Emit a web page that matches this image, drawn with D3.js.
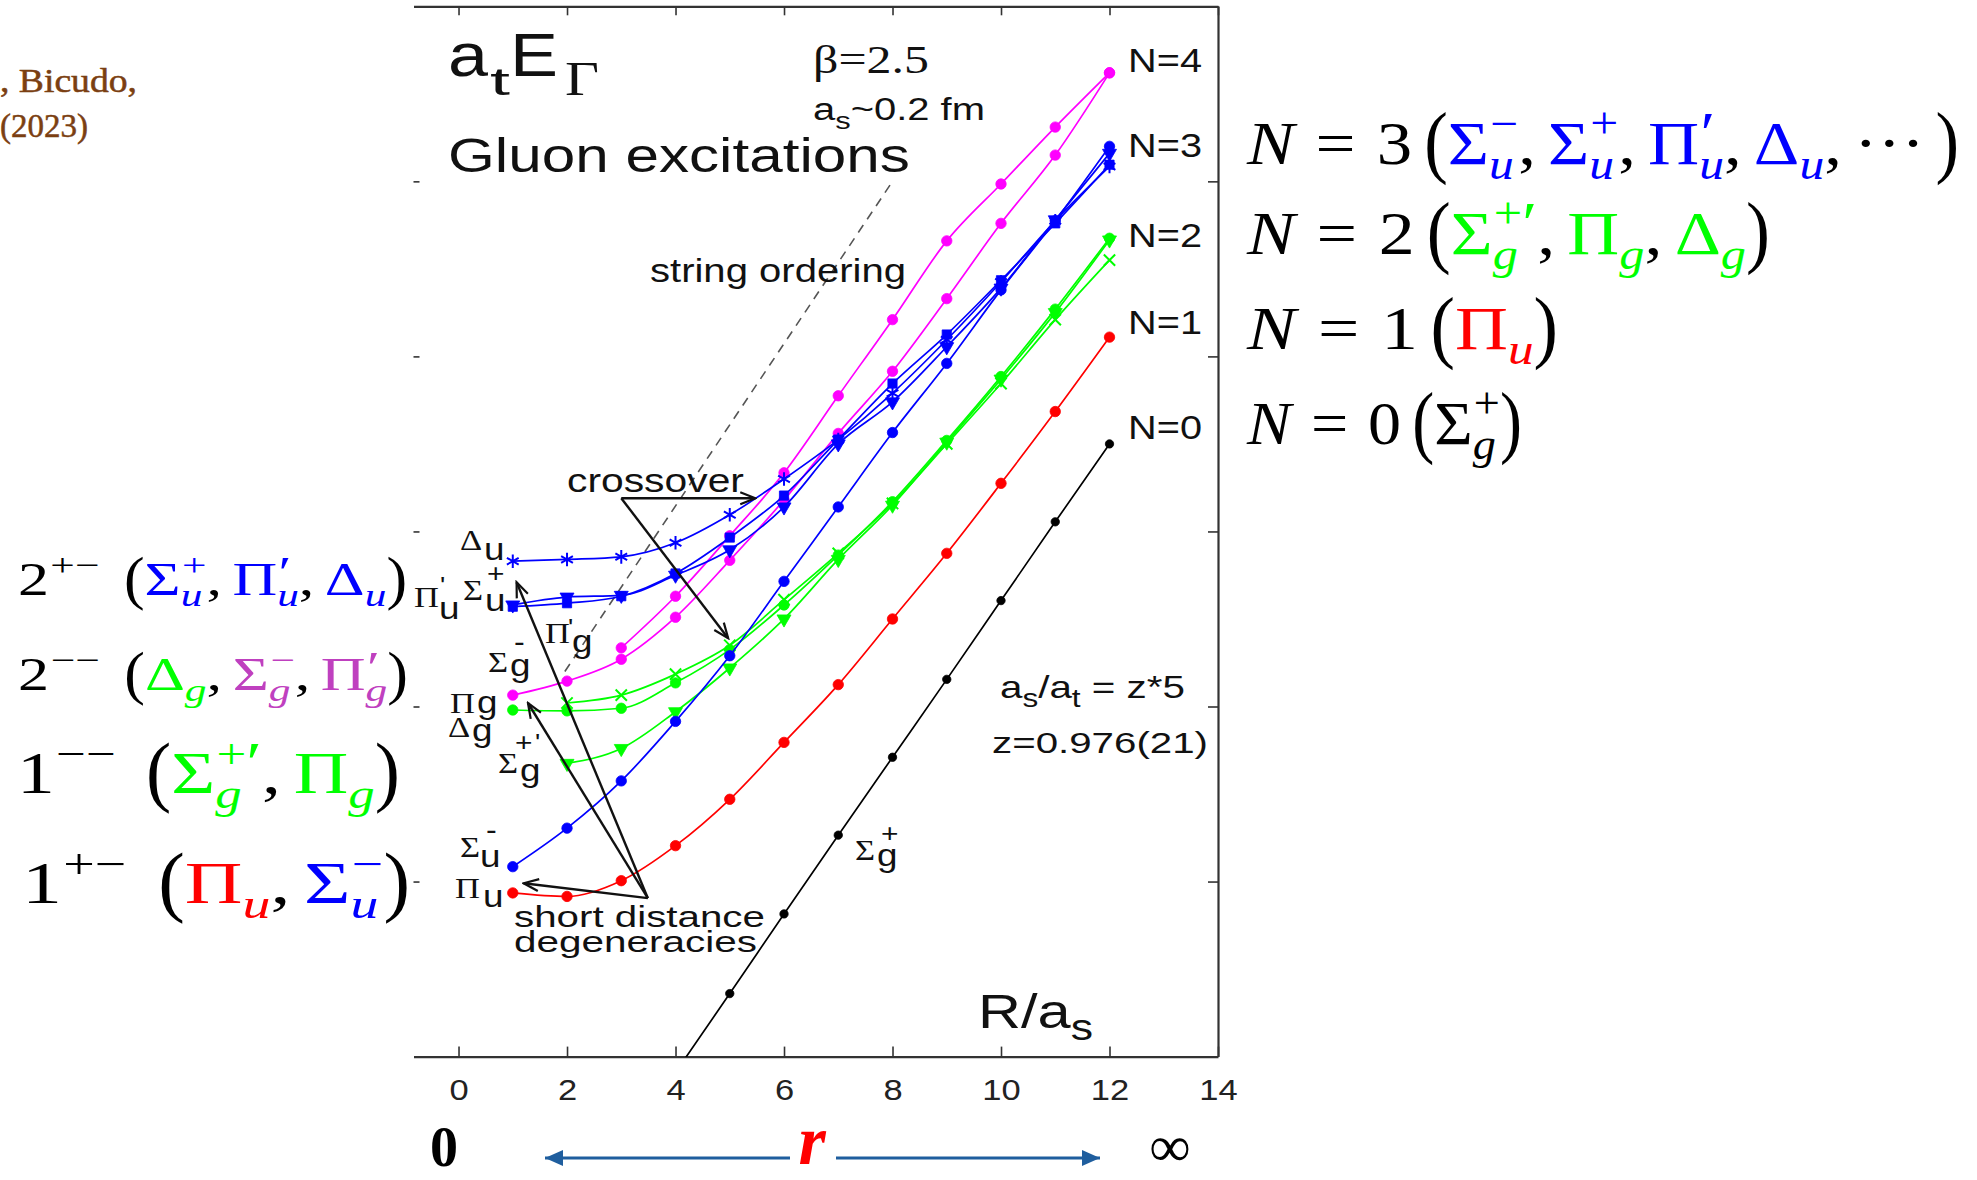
<!DOCTYPE html>
<html>
<head>
<meta charset="utf-8">
<script src="https://cdn.jsdelivr.net/npm/d3@7/dist/d3.min.js"></script>
<style>
html, body { margin: 0; padding: 0; background: #fff; }
svg { display: block; }
.sans { font-family: 'Liberation Sans', Arial, Helvetica, sans-serif; }
.serif { font-family: 'Liberation Serif', 'Times New Roman', serif; }
</style>
</head>
<body>
<svg id="chart" width="1977" height="1180"></svg>
<script>
// separations R/a_s of each level
const rFrom1 = [1, 2, 3, 4, 5, 6, 7, 8, 9, 10, 11, 12]
const rFrom2 = [2, 3, 4, 5, 6, 7, 8, 9, 10, 11, 12]
const rFrom3 = [3, 4, 5, 6, 7, 8, 9, 10, 11, 12]
const rFrom4 = [4, 5, 6, 7, 8, 9, 10, 11, 12]

// a_t E_Gamma
const sigmaGPlus = [-0.018, 0.072, 0.163, 0.253, 0.342, 0.431, 0.521, 0.611, 0.700]
const piU = [0.187, 0.183, 0.201, 0.241, 0.294, 0.359, 0.425, 0.500, 0.575, 0.655, 0.737, 0.822]
const sigmaUMinus = [0.217, 0.261, 0.315, 0.383, 0.458, 0.543, 0.628, 0.713, 0.792, 0.876, 0.955, 1.040]
const piUPrime = [0.514, 0.518, 0.526, 0.552, 0.593, 0.641, 0.705, 0.769, 0.825, 0.887, 0.952, 1.019]
const sigmaUPlus = [0.516, 0.525, 0.527, 0.550, 0.579, 0.628, 0.700, 0.748, 0.811, 0.878, 0.956, 1.032]
const deltaU = [0.566, 0.568, 0.571, 0.587, 0.619, 0.660, 0.705, 0.758, 0.819, 0.885, 0.955, 1.017]
const piGPrime = [0.413, 0.429, 0.454, 0.502, 0.567, 0.636, 0.712, 0.783, 0.866, 0.952, 1.030, 1.124]
const sigmaGMinus = [0.467, 0.526, 0.595, 0.667, 0.755, 0.842, 0.932, 0.997, 1.062, 1.124]
const deltaG = [0.396, 0.395, 0.398, 0.427, 0.465, 0.516, 0.573, 0.634, 0.704, 0.777, 0.854, 0.935]
const piG = [0.404, 0.413, 0.437, 0.470, 0.522, 0.575, 0.632, 0.700, 0.769, 0.842, 0.910]
const sigmaGPlusPrime = [0.335, 0.352, 0.394, 0.444, 0.500, 0.568, 0.630, 0.702, 0.774, 0.850, 0.933]

const xTicks = [0, 2, 4, 6, 8, 10, 12, 14]
const yTicks = [0.2, 0.4, 0.6, 0.8, 1.0]
const levelNames = ['N=4', 'N=3', 'N=2', 'N=1', 'N=0']

// annotation geometry, in data units (R, E)
const stringOrdering = [[1.96, 0.44], [8.0, 1.0]]
const crossoverArrows = [[[3.0, 0.638], [5.47, 0.638]], [[3.0, 0.638], [4.97, 0.478]]]
const degeneracyArrows = [[[3.49, 0.181], [1.2, 0.198]], [[3.49, 0.181], [1.07, 0.542]], [[3.49, 0.181], [1.28, 0.404]]]

const BLUE = '#0000ff', GREEN = '#00ff00', RED = '#ff0000', MAGENTA = '#ff00ff', PURPLE = '#bf40bf'

const series = [
    { r: rFrom4, e: sigmaGPlus, color: '#000', marker: 'dot', size: 55 },
    { r: rFrom1, e: piU, color: RED, marker: 'dot' },
    { r: rFrom1, e: piGPrime, color: MAGENTA, marker: 'dot' },
    { r: rFrom3, e: sigmaGMinus, color: MAGENTA, marker: 'dot' },
    { r: rFrom2, e: sigmaGPlusPrime, color: GREEN, marker: 'tri' },
    { r: rFrom2, e: piG, color: GREEN, marker: 'times' },
    { r: rFrom1, e: deltaG, color: GREEN, marker: 'dot' },
    { r: rFrom1, e: sigmaUMinus, color: BLUE, marker: 'dot' },
    { r: rFrom1, e: sigmaUPlus, color: BLUE, marker: 'tri' },
    { r: rFrom1, e: piUPrime, color: BLUE, marker: 'square' },
    { r: rFrom1, e: deltaU, color: BLUE, marker: 'asterisk' },
]

const svg = d3.select('#chart')

const x = d3.scaleLinear().domain([-0.83, 14]).range([413.5, 1218])
const y = d3.scaleLinear().domain([0, 1.2]).range([1056.6, 6.3])

const defs = svg.append('defs')
defs.append('clipPath').attr('id', 'plotClip')
    .append('rect').attr('x', 413.5).attr('y', 6).attr('width', 805).attr('height', 1051)

defs.append('marker').attr('id', 'vhead')
    .attr('markerUnits', 'userSpaceOnUse').attr('viewBox', '-18 -10 20 20')
    .attr('markerWidth', 20).attr('markerHeight', 20).attr('refX', 0).attr('refY', 0)
    .attr('orient', 'auto')
    .append('path').attr('d', 'M-15,-6L0,0L-15,6').attr('fill', 'none')
    .attr('stroke', '#111').attr('stroke-width', 2.2)

defs.append('marker').attr('id', 'bhead')
    .attr('markerUnits', 'userSpaceOnUse').attr('viewBox', '-20 -10 22 20')
    .attr('markerWidth', 22).attr('markerHeight', 20).attr('refX', 0).attr('refY', 0)
    .attr('orient', 'auto-start-reverse')
    .append('path').attr('d', 'M-18,-8L0,0L-18,8Z').attr('fill', '#1f5e9e')

// ---------- axes / frame ----------
const axes = svg.append('g')

const xAxis = axes.append('g')
    .attr('transform', `translate(0,${y(0)})`)
    .call(d3.axisBottom(x).tickValues(xTicks).tickSizeInner(-10).tickSizeOuter(0).tickPadding(22))
xAxis.selectAll('text')
    .attr('class', 'sans').attr('font-size', 30).attr('fill', '#222')
    .attr('transform', 'scale(1.15,1)')

axes.append('g')
    .attr('transform', `translate(0,${y(1.2)})`)
    .call(d3.axisTop(x).tickValues(xTicks).tickSizeInner(-9).tickSizeOuter(0).tickFormat(''))

axes.append('g')
    .attr('transform', `translate(${x(14)},0)`)
    .call(d3.axisRight(y).tickValues(yTicks).tickSizeInner(-10).tickSizeOuter(0).tickFormat(''))

const leftAxis = axes.append('g')
    .attr('transform', `translate(${x.range()[0]},0)`)
    .call(d3.axisLeft(y).tickValues(yTicks).tickSizeInner(-6).tickSizeOuter(0).tickFormat(''))
leftAxis.select('.domain').remove()

axes.selectAll('.domain').attr('stroke', '#333').attr('stroke-width', 2.2)
axes.selectAll('.tick line').attr('stroke', '#333').attr('stroke-width', 1.6)

// ---------- curves ----------
const plot = svg.append('g').attr('clip-path', 'url(#plotClip)')

plot.append('path')
    .datum(stringOrdering)
    .attr('d', d3.line().x(d => x(d[0])).y(d => y(d[1])))
    .attr('stroke', '#555').attr('stroke-width', 1.6).attr('stroke-dasharray', '9,7')

const curve = d3.line()
    .x(d => x(d[0]))
    .y(d => y(d[1]))
    .curve(d3.curveMonotoneX)

const symbolType = {
    dot: d3.symbolCircle,
    square: d3.symbolSquare,
    tri: d3.symbolTriangle,
    times: d3.symbolTimes || d3.symbolCross,
    asterisk: d3.symbolAsterisk || d3.symbolCross,
}
const strokeOnly = { times: true, asterisk: true }

series.forEach(s => {
    const pts = s.r.map((r, i) => [r, s.e[i]])
    plot.append('path')
        .datum(pts)
        .attr('d', curve)
        .attr('fill', 'none')
        .attr('stroke', s.color)
        .attr('stroke-width', 1.7)

    const sym = d3.symbol().type(symbolType[s.marker]).size(s.size || (s.marker === 'asterisk' ? 130 : 85))
    plot.selectAll(null)
        .data(pts)
        .join('path')
        .attr('transform', d => `translate(${x(d[0])},${y(d[1])})` + (s.marker === 'tri' ? ' rotate(180)' : ''))
        .attr('d', sym)
        .attr('fill', strokeOnly[s.marker] ? 'none' : s.color)
        .attr('stroke', s.color)
        .attr('stroke-width', strokeOnly[s.marker] ? 2 : 0.8)
})

// ---------- arrows ----------
const straight = d3.line().x(d => x(d[0])).y(d => y(d[1]))
crossoverArrows.concat(degeneracyArrows).forEach(a => {
    plot.append('path').datum(a).attr('d', straight)
        .attr('stroke', '#111').attr('stroke-width', 2.4).attr('fill', 'none')
        .attr('marker-end', 'url(#vhead)')
})

// ---------- plot text ----------
const txt = svg.append('g').attr('clip-path', 'url(#plotClip)')

// text stretched to a given width, like the squeezed-in picture
function fitText(parent, px, py, width, fs, cls, parts) {
    const t = parent.append('text').attr('class', cls).attr('font-size', fs).attr('fill', '#111')
    parts.forEach(p => {
        const ts = t.append('tspan').text(p.t)
        if (p.fs) ts.attr('font-size', p.fs)
        if (p.dy) ts.attr('dy', p.dy)
    })
    const w = t.node().getComputedTextLength()
    t.attr('transform', `translate(${px},${py}) scale(${width / w},1)`)
    return t
}

fitText(txt, 448, 76, 40, 61, 'sans', [{ t: 'a' }])
fitText(txt, 490, 95, 20, 38, 'sans', [{ t: 't' }])
fitText(txt, 510, 76, 48, 61, 'sans', [{ t: 'E' }])
fitText(txt, 565, 95, 34, 48, 'serif', [{ t: 'Γ' }])
fitText(txt, 448, 172, 462, 49, 'sans', [{ t: 'Gluon excitations' }])
fitText(txt, 813, 73, 116, 40, 'serif', [{ t: 'β=2.5' }])
fitText(txt, 813, 120, 172, 31, 'sans', [{ t: 'a' }, { t: 's', fs: 24, dy: 9 }, { t: '~0.2 fm', dy: -9 }])
fitText(txt, 650, 282, 256, 33, 'sans', [{ t: 'string ordering' }])
fitText(txt, 567, 492, 177, 33, 'sans', [{ t: 'crossover' }])
fitText(txt, 514, 927, 251, 30, 'sans', [{ t: 'short distance' }])
fitText(txt, 514, 952, 243, 30, 'sans', [{ t: 'degeneracies' }])
fitText(txt, 1000, 698, 185, 32, 'sans', [{ t: 'a' }, { t: 's', fs: 25, dy: 9 }, { t: '/a', dy: -9 }, { t: 't', fs: 25, dy: 9 }, { t: ' = z*5', dy: -9 }])
fitText(txt, 992, 753, 216, 30, 'sans', [{ t: 'z=0.976(21)' }])
fitText(txt, 978, 1028, 115, 48, 'sans', [{ t: 'R/a' }, { t: 's', fs: 36, dy: 12 }])

const levelBaselines = [72, 157, 247, 334, 439]
levelNames.forEach((n, i) => fitText(txt, 1128, levelBaselines[i], 74, 34, 'sans', [{ t: n }]))

// state labels next to the curves: serif greek, sans subscripts
const curveLabels = [
    [['Δ', 460, 550, 'serif', 30], ['u', 484, 560, 'sans', 32]],
    [['Π', 414, 607, 'serif', 30], ['\'', 440, 594, 'sans', 24], ['u', 439, 619, 'sans', 32],
     ['Σ', 463, 600, 'serif', 30], ['+', 487, 582, 'sans', 26], ['u', 485, 611, 'sans', 32]],
    [['Σ', 488, 672, 'serif', 30], ['-', 514, 651, 'sans', 28], ['g', 510, 676, 'sans', 32]],
    [['Π', 545, 643, 'serif', 30], ['\'', 568, 636, 'sans', 24], ['g', 572, 652, 'sans', 32]],
    [['Π', 450, 713, 'serif', 30], ['g', 477, 713, 'sans', 32]],
    [['Δ', 448, 737, 'serif', 30], ['g', 472, 741, 'sans', 32]],
    [['Σ', 498, 773, 'serif', 30], ['+', 515, 751, 'sans', 26], ['\'', 535, 751, 'sans', 24], ['g', 520, 781, 'sans', 32]],
    [['Σ', 460, 857, 'serif', 30], ['-', 486, 839, 'sans', 28], ['u', 480, 867, 'sans', 32]],
    [['Π', 455, 898, 'serif', 30], ['u', 483, 907, 'sans', 32]],
    [['Σ', 855, 860, 'serif', 30], ['+', 881, 842, 'sans', 26], ['g', 877, 866, 'sans', 32]],
]
curveLabels.forEach(parts => parts.forEach(([t, px, py, cls, fs]) => {
    txt.append('text').attr('class', cls).attr('font-size', fs).attr('fill', '#111')
        .attr('transform', `translate(${px},${py}) scale(1.15,1)`).text(t)
}))

// ---------- LaTeX-like formulas ----------
const math = svg.append('g')

function mathRow(x0, y0, fs, width, atoms) {
    const g = math.append('g')
    let cx = x0
    atoms.forEach(a => {
        if (a.sp != null) { cx += a.sp * fs; return }
        const col = a.c || '#000'
        const t = g.append('text').attr('class', 'serif').attr('font-size', fs).attr('fill', col).text(a.t)
        if (a.it) t.attr('font-style', 'italic')
        if (a.big) t.attr('transform', `translate(${cx},${y0 + 0.235 * fs * (a.big - 1)}) scale(1,${a.big})`)
        else t.attr('x', cx).attr('y', y0)
        const w = t.node().getComputedTextLength()
        let supW = 0, subW = 0
        if (a.sup) {
            let sx = cx + w + 1
            Array.from(a.sup).forEach(ch => {
                const prime = ch === '′'
                const s = g.append('text').attr('class', 'serif').attr('fill', col)
                    .attr('font-size', prime ? fs * 0.95 : fs * 0.7)
                    .attr('x', sx).attr('y', y0 - (prime ? 0.18 : 0.42) * fs).text(ch)
                sx += s.node().getComputedTextLength()
            })
            supW = sx - (cx + w)
        }
        if (a.sub) {
            const s = g.append('text').attr('class', 'serif').attr('font-size', fs * 0.7).attr('fill', col)
                .attr('font-style', 'italic').attr('x', cx + w).attr('y', y0 + 0.25 * fs).text(a.sub)
            subW = s.node().getComputedTextLength()
        }
        cx += w + Math.max(supW, subW)
    })
    const k = width / (cx - x0)
    g.attr('transform', `translate(${x0},0) scale(${k},1) translate(${-x0},0)`)
}

const comma = [{ t: ',' }, { sp: 0.17 }]
const lhs = n => [{ t: 'N', it: true }, { sp: 0.3 }, { t: '=' }, { sp: 0.3 }, { t: n }, { sp: 0.17 }]
const open = { t: '(', big: 1.3 }, close = { t: ')', big: 1.3 }

mathRow(1247, 164, 62, 712, [...lhs('3'), open,
    { t: 'Σ', c: BLUE, sup: '−', sub: 'u' }, ...comma,
    { t: 'Σ', c: BLUE, sup: '+', sub: 'u' }, ...comma,
    { t: 'Π', c: BLUE, sup: '′', sub: 'u' }, ...comma,
    { t: 'Δ', c: BLUE, sub: 'u' }, ...comma,
    { t: '···' }, { sp: 0.15 }, close])
mathRow(1247, 254, 62, 523, [...lhs('2'), open,
    { t: 'Σ', c: GREEN, sup: '+′', sub: 'g' }, ...comma,
    { t: 'Π', c: GREEN, sub: 'g' }, ...comma,
    { t: 'Δ', c: GREEN, sub: 'g' }, close])
mathRow(1247, 349, 62, 311, [...lhs('1'), open, { t: 'Π', c: RED, sub: 'u' }, close])
mathRow(1247, 444, 62, 275, [...lhs('0'), open, { t: 'Σ', sup: '+', sub: 'g' }, close])

mathRow(18, 595, 46, 389, [{ t: '2', sup: '+−' }, { sp: 0.4 }, open,
    { t: 'Σ', c: BLUE, sup: '+', sub: 'u' }, ...comma,
    { t: 'Π', c: BLUE, sup: '′', sub: 'u' }, ...comma,
    { t: 'Δ', c: BLUE, sub: 'u' }, close])
mathRow(18, 690, 46, 390, [{ t: '2', sup: '−−' }, { sp: 0.4 }, open,
    { t: 'Δ', c: GREEN, sub: 'g' }, ...comma,
    { t: 'Σ', c: PURPLE, sup: '−', sub: 'g' }, ...comma,
    { t: 'Π', c: PURPLE, sup: '′', sub: 'g' }, close])
mathRow(17, 793, 60, 383, [{ t: '1', sup: '−−' }, { sp: 0.4 }, open,
    { t: 'Σ', c: GREEN, sup: '+′', sub: 'g' }, ...comma,
    { t: 'Π', c: GREEN, sub: 'g' }, close])
mathRow(22, 903, 60, 388, [{ t: '1', sup: '+−' }, { sp: 0.4 }, open,
    { t: 'Π', c: RED, sub: 'u' }, ...comma,
    { t: 'Σ', c: BLUE, sup: '−', sub: 'u' }, close])

// ---------- citation and the r axis below ----------
svg.append('text').attr('class', 'serif').attr('font-size', 33).attr('fill', '#7b3f12')
    .attr('stroke', '#7b3f12').attr('stroke-width', 0.5)
    .attr('x', 0).attr('y', 92).attr('textLength', 137).attr('lengthAdjust', 'spacingAndGlyphs').text(', Bicudo,')
svg.append('text').attr('class', 'serif').attr('font-size', 33).attr('fill', '#7b3f12')
    .attr('stroke', '#7b3f12').attr('stroke-width', 0.5)
    .attr('x', 0).attr('y', 137).attr('textLength', 88).attr('lengthAdjust', 'spacingAndGlyphs').text('(2023)')

svg.append('text').attr('class', 'serif').attr('font-size', 56).attr('font-weight', 'bold')
    .attr('text-anchor', 'middle').attr('x', 444).attr('y', 1166).text('0')
svg.append('text').attr('class', 'serif').attr('font-size', 70).attr('font-weight', 'bold').attr('font-style', 'italic')
    .attr('fill', RED).attr('text-anchor', 'middle').attr('x', 812).attr('y', 1164).text('r')
svg.append('text').attr('class', 'serif').attr('font-size', 58)
    .attr('text-anchor', 'middle').attr('x', 1170).attr('y', 1166).text('∞')

svg.append('line').attr('x1', 790).attr('y1', 1158).attr('x2', 545).attr('y2', 1158)
    .attr('stroke', '#1f5e9e').attr('stroke-width', 3).attr('marker-end', 'url(#bhead)')
svg.append('line').attr('x1', 836).attr('y1', 1158).attr('x2', 1100).attr('y2', 1158)
    .attr('stroke', '#1f5e9e').attr('stroke-width', 3).attr('marker-end', 'url(#bhead)')
</script>
</body>
</html>
